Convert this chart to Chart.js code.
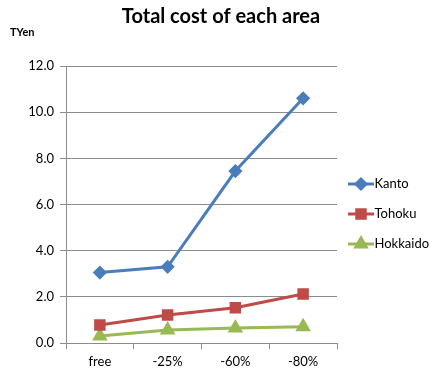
<!DOCTYPE html>
<html>
<head>
<meta charset="utf-8">
<script src="https://cdn.jsdelivr.net/npm/chart.js@4/dist/chart.umd.min.js"></script>
<style>
  html, body { margin: 0; padding: 0; background: #fff; }
  #wrap { width: 432px; height: 377px; }
</style>
</head>
<body>
<div id="wrap"><canvas id="chart"></canvas></div>
<script>
// Total cost of each area (TYen)
const categories = ["free", "-25%", "-60%", "-80%"];
const kanto = [3.05, 3.3, 7.45, 10.6];
const tohoku = [0.78, 1.21, 1.53, 2.12];
const hokkaido = [0.3, 0.56, 0.65, 0.7];

const FONT = "Lato, 'Open Sans', sans-serif";
const LEGEND_SHIFT_Y = 27;
const LEGEND_LINE = 26;
const LEGEND_LINE_X = -6;

// draws a small line + marker for each legend entry, like the Excel legend
const legendLines = {
  id: "legendLines",
  afterLayout: function (chart) {
    const legend = chart.legend;
    if (!legend) return;
    // push the legend block down a bit
    legend.top += LEGEND_SHIFT_Y;
    legend.bottom += LEGEND_SHIFT_Y;
    (legend.legendHitBoxes || []).forEach(function (hb) {
      hb.top += LEGEND_SHIFT_Y;
    });
  },
  afterDraw: function (chart) {
    const legend = chart.legend;
    if (!legend || !legend.legendHitBoxes) return;
    const ctx = chart.ctx;
    legend.legendHitBoxes.forEach(function (hb, i) {
      const ds = chart.data.datasets[i];
      const cy = hb.top + hb.height / 2;
      const x0 = hb.left + LEGEND_LINE_X;
      ctx.save();
      ctx.strokeStyle = ds.borderColor;
      ctx.lineWidth = 3;
      ctx.beginPath();
      ctx.moveTo(x0, cy);
      ctx.lineTo(x0 + LEGEND_LINE, cy);
      ctx.stroke();
      Chart.helpers.drawPoint(ctx, {
        pointStyle: ds.pointStyle,
        radius: ds.pointRadius,
        rotation: 0,
        borderWidth: 1
      }, x0 + LEGEND_LINE / 2, cy);
      ctx.fillStyle = ds.backgroundColor;
      ctx.strokeStyle = ds.borderColor;
      ctx.fill();
      ctx.restore();
    });
  }
};

new Chart(document.getElementById("chart"), {
  type: "line",
  data: {
    labels: categories,
    datasets: [
      {
        label: "Kanto",
        data: kanto,
        borderColor: "#4A7EBB",
        backgroundColor: "#4A7EBB",
        borderWidth: 3,
        pointStyle: "rectRot",
        pointRadius: 5,
        tension: 0,
      },
      {
        label: "Tohoku",
        data: tohoku,
        borderColor: "#BE4B48",
        backgroundColor: "#BE4B48",
        borderWidth: 3,
        pointStyle: "rect",
        pointRadius: 6,
        tension: 0,
      },
      {
        label: "Hokkaido",
        data: hokkaido,
        borderColor: "#98B954",
        backgroundColor: "#98B954",
        borderWidth: 3,
        pointStyle: "triangle",
        pointRadius: 6,
        tension: 0,
      },
    ],
  },
  options: {
    responsive: true,
    maintainAspectRatio: false,
    animation: false,
    layout: {
      padding: { left: 10, right: 0, top: 0, bottom: 3 },
    },
    plugins: {
      title: {
        display: true,
        text: "Total cost of each area",
        color: "#000",
        font: { family: FONT, size: 20, weight: "bold", lineHeight: 1 },
        padding: { top: 7, bottom: 0 },
      },
      subtitle: {
        display: true,
        text: "TYen",
        align: "start",
        color: "#000",
        font: { family: FONT, size: 11, weight: "bold", lineHeight: 1 },
        padding: { top: 0, bottom: 28 },
      },
      legend: {
        display: true,
        position: "right",
        maxWidth: 95,
        labels: {
          color: "#000",
          font: { family: FONT, size: 13 },
          boxWidth: 14,
          boxHeight: 12,
          padding: 17,
          generateLabels: function (chart) {
            return chart.data.datasets.map(function (ds, i) {
              return {
                text: ds.label,
                fillStyle: "rgba(0,0,0,0)",
                strokeStyle: "rgba(0,0,0,0)",
                lineWidth: 0,
                datasetIndex: i,
                hidden: false,
              };
            });
          },
        },
      },
      tooltip: { enabled: false },
    },
    scales: {
      x: {
        offset: true,
        grid: {
          display: true,
          offset: true,
          drawOnChartArea: false,
          drawTicks: true,
          tickLength: 6,
          color: "#8C8C8C",
        },
        border: { color: "#8C8C8C" },
        ticks: {
          color: "#000",
          font: { family: FONT, size: 13 },
          padding: 5,
        },
        afterFit: function (scale) {
          scale.height = 31;
        },
      },
      y: {
        min: 0,
        max: 12,
        grid: {
          color: "#8C8C8C",
          tickLength: 6,
        },
        border: { color: "#8C8C8C" },
        ticks: {
          stepSize: 2,
          color: "#000",
          font: { family: FONT, size: 13 },
          padding: 6,
          callback: function (value) {
            return value.toFixed(1);
          },
        },
        afterFit: function (scale) {
          scale.width = 56;
        },
      },
    },
  },
  plugins: [legendLines],
});
</script>
</body>
</html>
